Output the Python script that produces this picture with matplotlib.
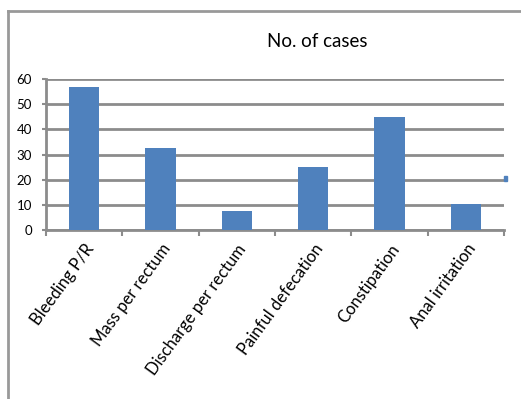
import numpy as np
from matplotlib import pyplot as plt
from matplotlib.lines import Line2D
from matplotlib.patches import Rectangle

categories = ['Bleeding P/R', 'Mass per rectum', 'Discharge per rectum',
              'Painful defecation', 'Constipation', 'Anal irritation']
cases = [56.7, 32.5, 7.5, 25.1, 44.8, 10.3]
yticks = [0, 10, 20, 30, 40, 50, 60]

plt.rcParams['font.family'] = ['Lato', 'DejaVu Sans']

grid_col = '#8c8c8c'
bar_col = '#4f81bd'

fig = plt.figure(figsize=(5.21, 3.99), dpi=100)
ax = fig.add_axes([0.0883, 0.4236, 0.879, 0.378])

x = np.arange(len(categories))
ax.bar(x, cases, width=0.4, color=bar_col, zorder=3)

ax.set_xlim(-0.5, len(categories) - 0.5)
ax.set_ylim(0, 60)
ax.set_yticks(yticks)
ax.set_yticklabels([str(v) for v in yticks], fontsize=9.5)
ax.yaxis.grid(True, color=grid_col, linewidth=2, zorder=0)

# ticks at category boundaries, labels at centres
ax.set_xticks(np.arange(len(categories) + 1) - 0.5)
ax.set_xticklabels([])
ax.set_xticks(x, minor=True)
ax.set_xticklabels(categories, minor=True, rotation=54, ha='right',
                   rotation_mode='anchor', fontsize=12)
ax.tick_params(axis='x', which='minor', length=0, pad=8)
ax.tick_params(axis='x', which='major', length=4, width=1.5, color=grid_col)
ax.tick_params(axis='y', length=3, width=1.5, color=grid_col, pad=7)

for s in ['top', 'right']:
    ax.spines[s].set_visible(False)
for s in ['left', 'bottom']:
    ax.spines[s].set_color(grid_col)
    ax.spines[s].set_linewidth(2)

fig.text(0.608, 0.895, 'No. of cases', ha='center', va='center', fontsize=13.5)

# outer chart frame (top and left only visible)
fig.add_artist(Line2D([0.0154, 1.0], [0.9724, 0.9724], color='#999999', lw=2))
fig.add_artist(Line2D([0.0154, 0.0154], [0.0, 0.9724], color='#999999', lw=2))
# clipped legend key at the right edge
fig.add_artist(Rectangle((504 / 521, 1 - 181 / 399), 3 / 521, 5 / 399, color=bar_col))

fig.savefig('out.png', dpi=100)
